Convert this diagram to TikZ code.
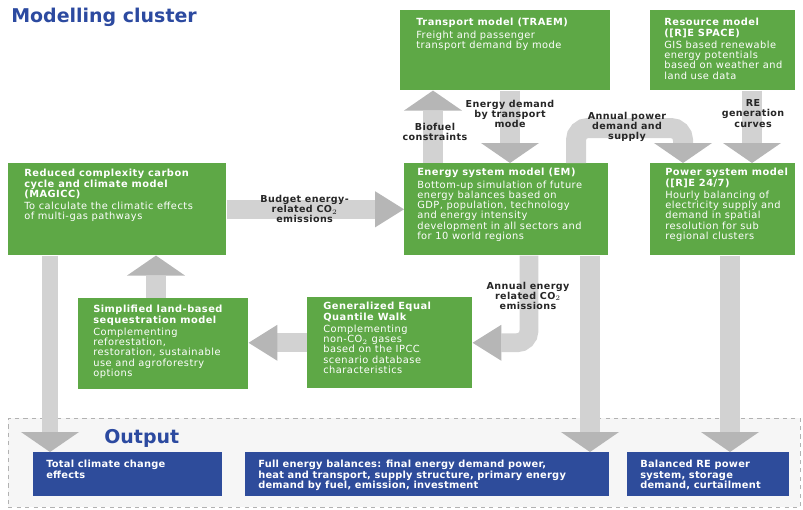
\documentclass[tikz,border=0pt]{standalone}
\usepackage{fontspec}
\setmainfont{DejaVu Sans}
\usetikzlibrary{arrows.meta,positioning,calc}

\definecolor{boxgreen}{RGB}{94,168,70}
\definecolor{boxblue}{RGB}{46,76,155}
\definecolor{titleblue}{RGB}{44,74,160}
\definecolor{shaftgray}{RGB}{210,210,210}
\definecolor{headgray}{RGB}{182,182,182}
\definecolor{areagray}{RGB}{246,246,246}

\tikzset{
  gbox/.style={fill=boxgreen, anchor=north west, inner sep=0pt},
  bbox/.style={fill=boxblue, anchor=north west, inner sep=0pt},
  gtext/.style={anchor=north west, inner sep=0pt, text=white, align=left,
    font=\fontsize{7}{7.3}\selectfont\addfontfeature{LetterSpace=5}},
  otext/.style={gtext, font=\fontsize{7}{7.3}\selectfont\bfseries\addfontfeature{LetterSpace=2.5}},
  alabel/.style={inner sep=0pt, align=center, text=black!85,
    font=\fontsize{6.8}{7.2}\selectfont\bfseries\addfontfeature{LetterSpace=4}},
  heading/.style={anchor=west, inner sep=0pt, text=titleblue,
    font=\fontsize{13.5}{15}\selectfont\bfseries},
  varrow/.style={draw=shaftgray, line width=0.5cm,
    -{Triangle[width=1.45cm, length=0.5cm, line width=0pt, color=headgray]}},
  harrow/.style={draw=shaftgray, line width=0.47cm,
    -{Triangle[width=0.9cm, length=0.72cm, line width=0pt, color=headgray]}},
}

\begin{document}
\begin{tikzpicture}[x=0.025cm, y=-0.025cm]
    \useasboundingbox (0,0) rectangle (803,509);

    % output area
    \node[draw=black!30, dashed, fill=areagray, anchor=north west, inner sep=0pt,
          minimum width=792*0.025cm, minimum height=89*0.025cm] (outarea) at (8,418) {};
    \node[heading] (outtitle) at (104,438) {Output};
    \node[heading] (clustertitle) at (11,17) {Modelling cluster};

    % model boxes
    \node[gbox, minimum width=210*0.025cm, minimum height=80*0.025cm] (transport) at (400,10) {};
    \node[gtext] (transport-t) at ([shift={(16,8)}]transport.north west)
        {\textbf{Transport model (TRAEM)}\\[1.5pt]Freight and passenger\\transport demand by mode};

    \node[gbox, minimum width=145*0.025cm, minimum height=80*0.025cm] (resource) at (650,10) {};
    \node[gtext] (resource-t) at ([shift={(14,8)}]resource.north west)
        {\textbf{Resource model}\\\textbf{([R]E SPACE)}\\[1.5pt]GIS based renewable\\energy potentials\\based on weather and\\land use data};

    \node[gbox, minimum width=218*0.025cm, minimum height=92*0.025cm] (magicc) at (8,163) {};
    \node[gtext] (magicc-t) at ([shift={(16,6)}]magicc.north west)
        {\textbf{Reduced complexity carbon}\\\textbf{cycle and climate model}\\\textbf{(MAGICC)}\\[1.5pt]To calculate the climatic effects\\of multi-gas pathways};

    \node[gbox, minimum width=204*0.025cm, minimum height=92*0.025cm] (em) at (404,163) {};
    \node[gtext] (em-t) at ([shift={(13,5)}]em.north west)
        {\textbf{Energy system model (EM)}\\[1.5pt]Bottom-up simulation of future\\energy balances based on\\GDP, population, technology\\and energy intensity\\development in all sectors and\\for 10 world regions};

    \node[gbox, minimum width=145*0.025cm, minimum height=92*0.025cm] (power) at (650,163) {};
    \node[gtext] (power-t) at ([shift={(15,5)}]power.north west)
        {\textbf{Power system model}\\\textbf{([R]E 24/7)}\\[1.5pt]Hourly balancing of\\electricity supply and\\demand in spatial\\resolution for sub\\regional clusters};

    \node[gbox, minimum width=170*0.025cm, minimum height=91*0.025cm] (land) at (78,298) {};
    \node[gtext] (land-t) at ([shift={(15,7)}]land.north west)
        {\textbf{Simplified land-based}\\\textbf{sequestration model}\\[1.5pt]Complementing\\reforestation,\\restoration, sustainable\\use and agroforestry\\options};

    \node[gbox, minimum width=165*0.025cm, minimum height=91*0.025cm] (geqw) at (307,297) {};
    \node[gtext] (geqw-t) at ([shift={(16,5)}]geqw.north west)
        {\textbf{Generalized Equal}\\\textbf{Quantile Walk}\\[1.5pt]Complementing\\non-CO$_2$ gases\\based on the IPCC\\scenario database\\characteristics};

    % output boxes
    \node[bbox, minimum width=189*0.025cm, minimum height=44*0.025cm] (out1) at (33,452) {};
    \node[otext] (out1-t) at ([shift={(13,8)}]out1.north west)
        {Total climate change\\effects};

    \node[bbox, minimum width=364*0.025cm, minimum height=44*0.025cm] (out2) at (245,452) {};
    \node[otext] (out2-t) at ([shift={(13,8)}]out2.north west)
        {Full energy balances: final energy demand power,\\heat and transport, supply structure, primary energy\\demand by fuel, emission, investment};

    \node[bbox, minimum width=162*0.025cm, minimum height=44*0.025cm] (out3) at (627,452) {};
    \node[otext] (out3-t) at ([shift={(13,8)}]out3.north west)
        {Balanced RE power\\system, storage\\demand, curtailment};

    % connectors
    \coordinate (bf) at ([shift={(29,0)}]em.north west);
    \coordinate (ed) at ([shift={(110,0)}]transport.south west);
    \coordinate (ap) at ([shift={(172,0)}]em.north west);
    \coordinate (re) at ([shift={(102,0)}]resource.south west);
    \coordinate (ae) at ([shift={(125,0)}]em.south west);
    \coordinate (lm) at ([shift={(78,0)}]land.north west);
    \coordinate (mo) at ([shift={(42,0)}]magicc.south west);
    \coordinate (eo) at ([shift={(186,0)}]em.south west);
    \coordinate (po) at ([shift={(80,0)}]power.south west);

    \draw[harrow] (magicc.east) -- (em.west);
    \draw[varrow] (bf) -- (bf |- transport.south);
    \draw[varrow] (ed) -- (ed |- em.north);
    \draw[varrow, rounded corners=0.3cm] (ap) -- ++(0,-35) -| ([shift={(33,0)}]power.north west);
    \draw[varrow] (re) -- (re |- power.north);
    \draw[harrow, rounded corners=0.3cm] (ae) |- (geqw.east);
    \draw[harrow] (geqw.west) -- (geqw.west -| land.east);
    \draw[varrow] (lm) -- (lm |- magicc.south);
    \draw[varrow, line width=0.42cm] (mo) -- (mo |- out1.north);
    \draw[varrow] (eo) -- (eo |- out2.north);
    \draw[varrow] (po) -- (po |- out3.north);

    % connector labels
    \node[alabel] (budget-l) at ($(magicc.east)!0.44!(em.west)$) {Budget energy-\\related CO$_2$\\emissions};
    \node[alabel] (bf-l) at ($(bf)+(2,-31)$) {Biofuel\\constraints};
    \node[alabel] (ed-l) at ($(ed)+(0,23)$) {Energy demand\\by transport\\mode};
    \node[alabel] (ap-l) at ($(ap)+(51,-36)$) {Annual power\\demand and\\supply};
    \node[alabel] (re-l) at ($(re)+(1,23)$) {RE\\generation\\curves};
    \node[alabel] (ae-l) at ($(ae)+(-1,40)$) {Annual energy\\related CO$_2$\\emissions};
\end{tikzpicture}
\end{document}
